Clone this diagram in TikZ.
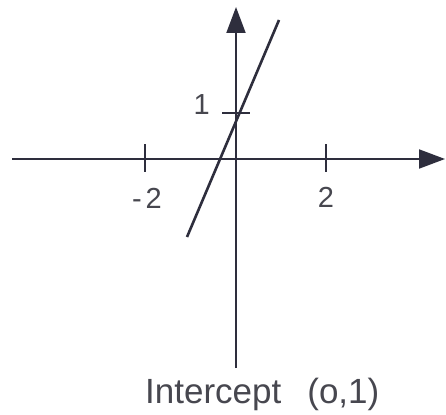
\documentclass[tikz,border=0pt]{standalone}
\usepackage{fontspec}
\setmainfont{Liberation Sans}
\usetikzlibrary{arrows.meta}
\definecolor{ink}{rgb}{0.18,0.18,0.24}
\definecolor{txt}{rgb}{0.28,0.28,0.31}
\begin{document}
\begin{tikzpicture}[x=1pt,y=-1pt,
  axis/.style={draw=ink,line width=2pt,-{Triangle[length=26pt,width=19pt]}},
  tickmark/.style={draw=ink,line width=2pt},
  graphline/.style={draw=ink,line width=2.6pt},
  numlabel/.style={text=txt,inner sep=0pt,font=\fontsize{29}{31}\selectfont},
  caption/.style={text=txt,inner sep=0pt,font=\fontsize{35}{38}\selectfont}]
\useasboundingbox[fill=white] (0,0) rectangle (446,414);
% axes
\coordinate (xl) at (12,159);
\coordinate (xr) at (445,159);
\coordinate (yb) at (236,368);
\coordinate (yt) at (236,7);
\draw[axis] (xl) -- (xr);
\draw[axis] (yb) -- (yt);
% ticks
\coordinate (t1a) at (145,144); \coordinate (t1b) at (145,172);
\coordinate (t2a) at (326,144); \coordinate (t2b) at (326,172);
\coordinate (t3a) at (222,113); \coordinate (t3b) at (250,113);
\draw[tickmark] (t1a) -- (t1b);
\draw[tickmark] (t2a) -- (t2b);
\draw[tickmark] (t3a) -- (t3b);
% graph line
\coordinate (la) at (187,237);
\coordinate (lb) at (279,20);
\draw[graphline] (la) -- (lb);
% labels
\node[numlabel,anchor=base east] (one) at (210,115) {1};
\node[numlabel,anchor=base] (m2) at (147,208) {-\hspace{4pt}2};
\node[numlabel,anchor=base] (p2) at (326,207) {2};
\node[caption,anchor=base west] (cap) at (145,403) {Intercept\hspace{26pt}(o,1)};
\end{tikzpicture}
\end{document}
